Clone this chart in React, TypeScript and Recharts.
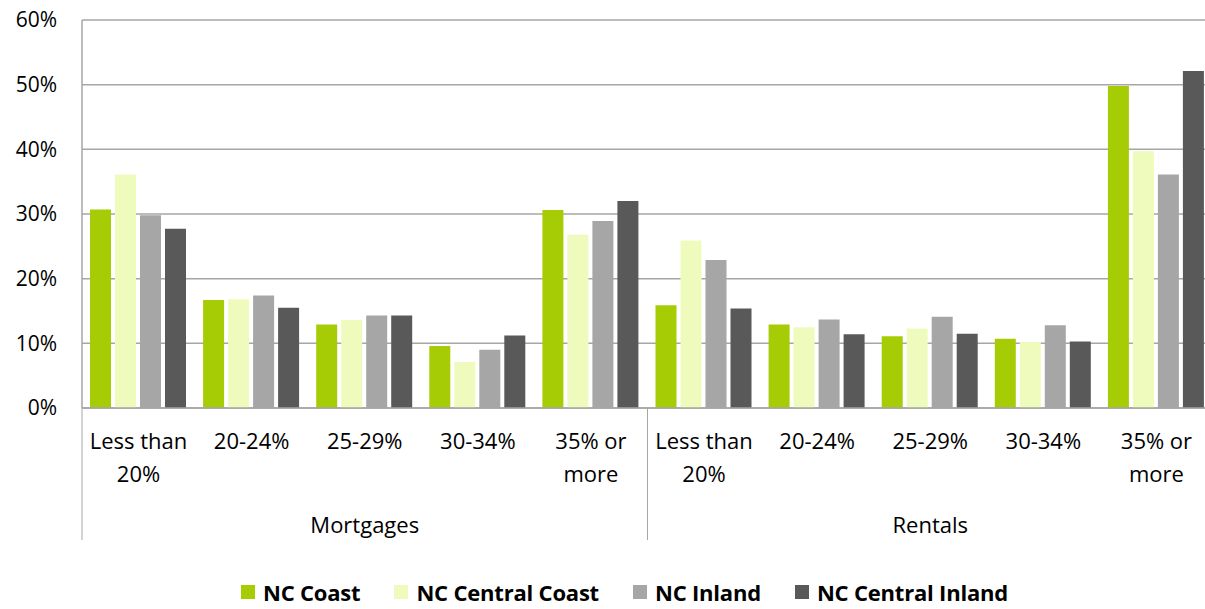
import { BarChart, Bar, XAxis, YAxis, CartesianGrid, Legend } from 'recharts';

const tickLabels = ['Less than\n20%', '20-24%', '25-29%', '30-34%', '35% or\nmore'];
const groups = ['Mortgages', 'Rentals'];

const ncCoast = [30.7, 16.7, 12.9, 9.6, 30.6, 15.9, 12.9, 11.1, 10.7, 49.8];
const ncCentralCoast = [36.1, 16.8, 13.6, 7.1, 26.8, 25.9, 12.5, 12.3, 10.2, 39.7];
const ncInland = [29.8, 17.4, 14.3, 9.0, 28.9, 22.9, 13.7, 14.1, 12.8, 36.1];
const ncCentralInland = [27.7, 15.5, 14.3, 11.2, 32.0, 15.4, 11.4, 11.5, 10.3, 52.1];

const yTicks = [0, 10, 20, 30, 40, 50, 60];

const series = [
  { key: 'coast', name: 'NC Coast', color: '#a6cc05', values: ncCoast },
  { key: 'centralCoast', name: 'NC Central Coast', color: '#effbbd', values: ncCentralCoast },
  { key: 'inland', name: 'NC Inland', color: '#a6a6a6', values: ncInland },
  { key: 'centralInland', name: 'NC Central Inland', color: '#595959', values: ncCentralInland },
];

const data = groups.flatMap((group, g) =>
  tickLabels.map((label, i) => {
    const idx = g * tickLabels.length + i;
    const row: Record<string, string | number> = { id: `${group}-${i}`, label, group };
    series.forEach((s) => {
      row[s.key] = s.values[idx];
    });
    return row;
  })
);

const FONT = '"Open Sans", sans-serif';
const W = 1213;
const H = 609;
const LEFT = 82;
const GRID = '#a6a6a6';

function CategoryTick({ x, y, payload }: any) {
  const lines = String(tickLabels[payload.index % tickLabels.length]).split('\n');
  return (
    <text x={x} y={y} textAnchor="middle" fontFamily={FONT} fontSize={22} fill="#000">
      {lines.map((ln, i) => (
        <tspan key={i} x={x} dy={i === 0 ? 41 : 33}>
          {ln}
        </tspan>
      ))}
    </text>
  );
}

function GroupTick({ x, y, payload }: any) {
  const half = (W - LEFT) / groups.length / 2;
  return (
    <g>
      <line x1={x - half} y1={y - 80} x2={x - half} y2={y + 52} stroke={GRID} />
      {payload.index === groups.length - 1 && (
        <line x1={x + half} y1={y - 80} x2={x + half} y2={y + 52} stroke={GRID} />
      )}
      <text x={x} y={y + 45} textAnchor="middle" fontFamily={FONT} fontSize={22} fill="#000">
        {payload.value}
      </text>
    </g>
  );
}

function LegendContent() {
  return (
    <div
      style={{
        position: 'relative',
        top: -4,
        display: 'flex',
        justifyContent: 'center',
        alignItems: 'center',
        paddingLeft: 36,
        height: 26,
        lineHeight: 1,
        fontFamily: FONT,
        fontWeight: 700,
        fontSize: 22,
        color: '#000',
      }}
    >
      {series.map((s) => (
        <div key={s.key} style={{ display: 'flex', alignItems: 'center', margin: '0 17px' }}>
          <span style={{ width: 14, height: 14, background: s.color, marginRight: 8, display: 'inline-block' }} />
          <span style={{ letterSpacing: -0.2 }}>{s.name}</span>
        </div>
      ))}
    </div>
  );
}

export default function App() {
  return (
    <div style={{ position: 'fixed', left: 0, top: 0, width: 1205, height: H, overflow: 'hidden', background: '#fff' }}>
      <BarChart
        width={W}
        height={H}
        data={data}
        margin={{ top: 20, right: 0, bottom: 0, left: 0 }}
        barCategoryGap={8}
        barGap={4}
      >
        <CartesianGrid vertical={false} stroke={GRID} strokeWidth={1.5} />
        <XAxis
          dataKey="id"
          height={80}
          interval={0}
          tick={<CategoryTick />}
          tickLine={false}
          tickSize={0}
          tickMargin={0}
          axisLine={{ stroke: GRID, strokeWidth: 1.5 }}
        />
        <XAxis
          dataKey="group"
          xAxisId="group"
          height={95}
          allowDuplicatedCategory={false}
          interval={0}
          tick={<GroupTick />}
          tickLine={false}
          tickSize={0}
          tickMargin={0}
          axisLine={false}
        />
        <YAxis
          width={LEFT}
          domain={[0, 60]}
          ticks={yTicks}
          tickFormatter={(v) => `${v}%`}
          tickLine={false}
          tickSize={0}
          tickMargin={25}
          axisLine={{ stroke: GRID, strokeWidth: 1.5 }}
          tick={{ fontFamily: FONT, fontSize: 21, fill: '#000' }}
        />
        <Legend verticalAlign="bottom" height={26} content={<LegendContent />} />
        {series.map((s) => (
          <Bar key={s.key} dataKey={s.key} name={s.name} fill={s.color} isAnimationActive={false} />
        ))}
      </BarChart>
    </div>
  );
}
